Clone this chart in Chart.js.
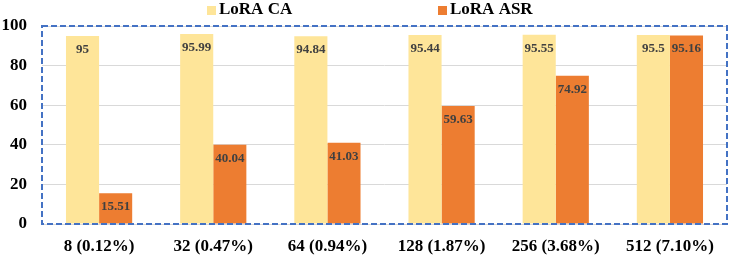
<!DOCTYPE html>
<html><head><meta charset="utf-8">
<script src="https://cdn.jsdelivr.net/npm/chart.js@4"></script>
<style>html,body{margin:0;padding:0;background:#fff}#w{width:731px;height:257px}</style>
</head><body><div id="w"><canvas id="c"></canvas></div>
<script>
const categories = ["8 (0.12%)", "32 (0.47%)", "64 (0.94%)", "128 (1.87%)", "256 (3.68%)", "512 (7.10%)"];
const loraCA = [95, 95.99, 94.84, 95.44, 95.55, 95.5];
const loraASR = [15.51, 40.04, 41.03, 59.63, 74.92, 95.16];
const seriesNames = ["LoRA CA", "LoRA ASR"];
const yTicks = [0, 20, 40, 60, 80, 100];
const colors = ["#FEE599", "#ED7D31"];

const serif = "'Liberation Serif', 'Times New Roman', serif";

const decor = {
  id: 'decor',
  afterDatasetsDraw(chart) {
    const ctx = chart.ctx;
    ctx.save();
    ctx.font = "bold 13px " + serif;
    ctx.fillStyle = "#404040";
    ctx.textAlign = "center";
    ctx.textBaseline = "middle";
    chart.data.datasets.forEach((ds, i) => {
      chart.getDatasetMeta(i).data.forEach((bar, j) => {
        ctx.fillText(String(ds.data[j]), bar.x, bar.y + 13.5);
      });
    });
    ctx.restore();
  },
  afterDraw(chart) {
    const ctx = chart.ctx, a = chart.chartArea;
    ctx.save();
    ctx.strokeStyle = "#4472C4";
    ctx.lineWidth = 2;
    ctx.setLineDash([6, 3]);
    ctx.strokeRect(a.left, a.top, a.right - a.left, a.bottom - a.top);
    ctx.setLineDash([]);
    // legend
    ctx.font = "bold 17px " + serif;
    ctx.textBaseline = "middle";
    ctx.textAlign = "left";
    const pos = [207, 438];
    seriesNames.forEach((n, i) => {
      ctx.fillStyle = colors[i];
      ctx.fillRect(pos[i], 6, 9, 9);
      ctx.fillStyle = "#000";
      ctx.fillText(n, pos[i] + 12, 10);
    });
    ctx.restore();
  }
};

new Chart(document.getElementById('c'), {
  type: 'bar',
  data: {
    labels: categories,
    datasets: [
      { label: seriesNames[0], data: loraCA, backgroundColor: colors[0] },
      { label: seriesNames[1], data: loraASR, backgroundColor: colors[1] }
    ]
  },
  options: {
    responsive: true, maintainAspectRatio: false, animation: false,
    layout: { padding: { top: 26, right: 4, bottom: 1, left: 0 } },
    datasets: { bar: { categoryPercentage: 0.58, barPercentage: 1.0 } },
    plugins: { legend: { display: false }, tooltip: { enabled: false } },
    scales: {
      x: {
        afterFit(s) { s.height = 32; },
        grid: { display: false, drawTicks: false },
        border: { display: false },
        ticks: { color: "#000", font: { family: serif, size: 17, weight: 'bold' }, padding: 12, maxRotation: 0 }
      },
      y: {
        min: 0, max: 100,
        afterBuildTicks(s) { s.ticks = yTicks.map(v => ({ value: v })); },
        afterFit(s) { s.width = 42; },
        grid: { color: "#D9D9D9", lineWidth: 1, drawTicks: false },
        border: { display: false },
        ticks: { color: "#000", font: { family: serif, size: 17, weight: 'bold' }, padding: 15 }
      }
    }
  },
  plugins: [decor]
});
</script></body></html>
